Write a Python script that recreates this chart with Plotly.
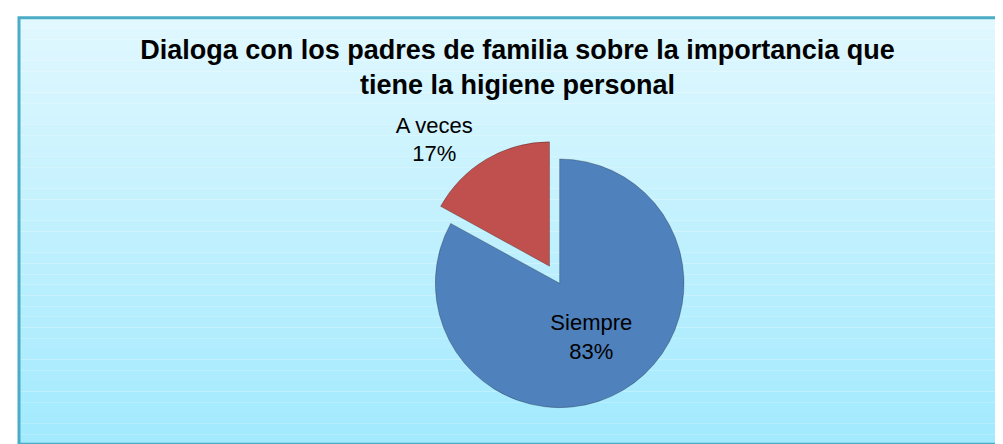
import plotly.graph_objects as go

# datos
labels = ["Siempre", "A veces"]
values = [83, 17]
colors = ["#4f81bd", "#c0504d"]
pulls = [0, 0.16]

title = "Dialoga con los padres de familia sobre la importancia que<br>tiene la higiene personal"

fig = go.Figure()

fig.add_trace(go.Pie(
    labels=labels,
    values=values,
    pull=pulls,
    sort=False,
    direction="clockwise",
    rotation=0,
    marker=dict(colors=colors, line=dict(color="rgba(0,0,0,0.25)", width=1)),
    texttemplate="%{label}<br>%{percent:.0%}",
    textposition=["inside", "outside"],
    insidetextorientation="horizontal",
    textfont=dict(family="Liberation Sans, Arial", size=22, color="black"),
    showlegend=False,
    domain=dict(x=[0.37, 0.73], y=[0.04, 0.70]),
    hoverinfo="label+percent",
))

# fondo degradado del marco (bandas)
shapes = []
n = 40
top_c = (224, 248, 254)
bot_c = (163, 234, 254)
y0, y1 = 1 - 10 / 444, 0.0
for i in range(n):
    t = i / (n - 1)
    c = tuple(int(top_c[k] + (bot_c[k] - top_c[k]) * t) for k in range(3))
    ya = y0 + (y1 - y0) * i / n
    yb = y0 + (y1 - y0) * (i + 1) / n
    shapes.append(dict(type="rect", xref="paper", yref="paper",
                       x0=11 / 1003, x1=1001 / 1003, y0=yb, y1=ya,
                       fillcolor="rgb(%d,%d,%d)" % c, line=dict(width=0), layer="below"))
shapes.append(dict(type="rect", xref="paper", yref="paper",
                   x0=11 / 1003, x1=1001 / 1003, y0=0.002, y1=1 - 10 / 444,
                   line=dict(color="#4bacc6", width=3), fillcolor="rgba(0,0,0,0)", layer="above"))

fig.update_layout(
    width=1003,
    height=444,
    margin=dict(l=0, r=0, t=0, b=0),
    paper_bgcolor="white",
    plot_bgcolor="white",
    shapes=shapes,
    title=dict(
        text="<b>" + title + "</b>",
        x=0.508, xanchor="center",
        y=0.885, yanchor="top",
        font=dict(family="Liberation Sans, Arial", size=27, color="black"),
    ),
)

fig.write_html("out.html")
